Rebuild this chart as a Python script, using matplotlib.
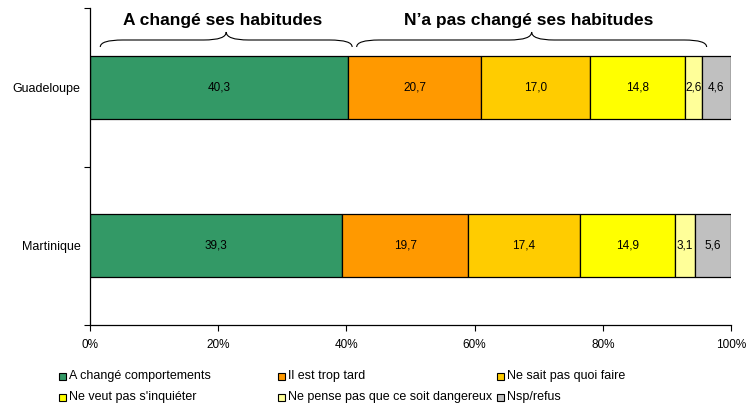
import matplotlib
matplotlib.use("Agg")
import matplotlib.pyplot as plt
from matplotlib.path import Path
from matplotlib.patches import PathPatch, Rectangle
import matplotlib.transforms as mtransforms
import numpy as np

categories = ["Guadeloupe", "Martinique"]
series_names = ["A changé comportements", "Il est trop tard", "Ne sait pas quoi faire",
                "Ne veut pas s'inquiéter", "Ne pense pas que ce soit dangereux", "Nsp/refus"]
guadeloupe = [40.3, 20.7, 17.0, 14.8, 2.6, 4.6]
martinique = [39.3, 19.7, 17.4, 14.9, 3.1, 5.6]
colors = ["#339966", "#FF9900", "#FFCC00", "#FFFF00", "#FFFF99", "#C0C0C0"]
xticks = [0, 20, 40, 60, 80, 100]
xtick_labels = ["0%", "20%", "40%", "60%", "80%", "100%"]
group_titles = ["A changé ses habitudes", "N\u2019a pas changé ses habitudes"]
group_spans = [(1.6, 40.9), (41.6, 96.2)]

plt.rcParams['font.family'] = ['Liberation Sans', 'DejaVu Sans']

W, H = 747, 408
fig = plt.figure(figsize=(W/100, H/100), dpi=100)
ax = fig.add_axes([90/W, 1-325/H, 641/W, 317/H])

data = np.array([guadeloupe, martinique])
ypos = np.arange(len(categories))
left = np.zeros(len(categories))
for j in range(data.shape[1]):
    vals = data[:, j]
    ax.barh(ypos, vals, left=left, height=0.4, color=colors[j], edgecolor="black", linewidth=0.9)
    for i in range(len(categories)):
        txt = f"{vals[i]:.1f}".replace(".", ",")
        ax.text(left[i] + vals[i]/2, ypos[i], txt, ha="center", va="center", fontsize=8.5)
    left = left + vals

ax.set_xlim(0, 100)
ax.set_ylim(1.5, -0.5)
ax.set_yticks(ypos)
ax.set_yticklabels(categories, fontsize=9)
ax.set_yticks([-0.5, 0.5, 1.5], minor=True)
ax.tick_params(axis="y", which="major", length=0, pad=7)
ax.tick_params(axis="y", which="minor", length=4, width=0.8)
ax.set_xticks(xticks)
ax.set_xticklabels(xtick_labels, fontsize=8.5)
ax.tick_params(axis="x", length=4, width=0.8, pad=6)
for s in ["top", "right"]:
    ax.spines[s].set_visible(False)
for s in ["left", "bottom"]:
    ax.spines[s].set_linewidth(0.9)

trans = mtransforms.blended_transform_factory(ax.transData, ax.transAxes)
yb, ym, yt = 1 - 39/317, 1 - 32/317, 1 - 24/317
w = 3.5
for (x0, x1), title in zip(group_spans, group_titles):
    xc = (x0 + x1) / 2
    verts = [(x0, yb), (x0, ym), (x0 + w, ym),
             (xc - w, ym),
             (xc, ym), (xc, yt),
             (xc, ym), (xc + w, ym),
             (x1 - w, ym),
             (x1, ym), (x1, yb)]
    codes = [Path.MOVETO, Path.CURVE3, Path.CURVE3,
             Path.LINETO,
             Path.CURVE3, Path.CURVE3,
             Path.CURVE3, Path.CURVE3,
             Path.LINETO,
             Path.CURVE3, Path.CURVE3]
    ax.add_patch(PathPatch(Path(verts, codes), transform=trans, fill=False,
                           edgecolor="black", linewidth=0.8, clip_on=False))
    ax.text(xc - 0.5, 1 - 12/317, title, transform=trans, ha="center", va="center",
            fontsize=12.5, fontweight="bold")

# legend, row-major grid like the reference
col_x = [59, 278, 497]
row_y = [376, 397]
sq = 7
for k, (name, c) in enumerate(zip(series_names, colors)):
    r, cc = divmod(k, 3)
    x, y = col_x[cc], row_y[r]
    fig.add_artist(Rectangle((x/W, (H - y - sq/2)/H), sq/W, sq/H, transform=fig.transFigure,
                             facecolor=c, edgecolor="black", linewidth=0.8))
    fig.text((x + 10)/W, 1 - y/H, name, ha="left", va="center", fontsize=9)

fig.savefig("out.png", dpi=100)
